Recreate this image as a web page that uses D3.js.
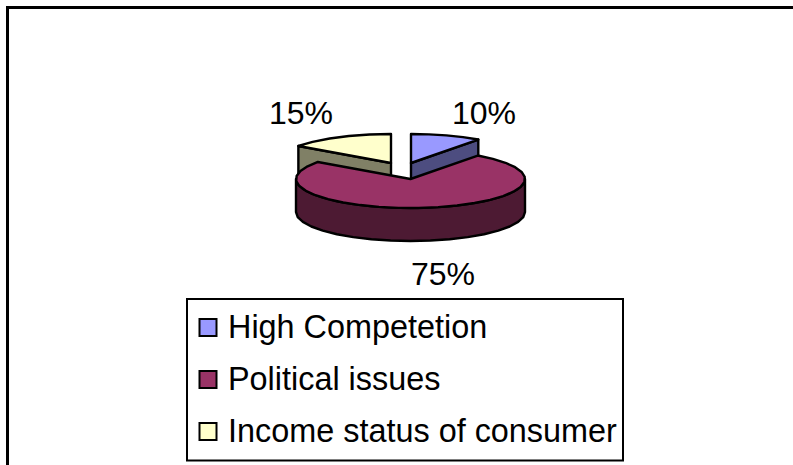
<!DOCTYPE html>
<html>
<head>
<meta charset="utf-8">
<script src="https://cdnjs.cloudflare.com/ajax/libs/d3/7.8.5/d3.min.js"></script>
<style>
html, body { margin: 0; padding: 0; background: #fff; }
svg { display: block; }
text { font-family: "Liberation Sans", Arial, sans-serif; fill: #000; }
</style>
</head>
<body>
<svg id="chart" width="793" height="465"></svg>
<script>
const categories = ["High Competetion", "Political issues", "Income status of consumer"];
const shares = [10, 75, 15];
const topColors = ["#9999FF", "#993366", "#FFFFCC"];
const sideColors = ["#4D4D80", "#4D1A33", "#808066"];

const svg = d3.select("#chart");

// Outer chart frame: only the top and left edges fall inside the page
svg.append("path")
  .attr("d", "M7.5,465V7.5H793")
  .attr("fill", "none").attr("stroke", "#000").attr("stroke-width", 3);

// Pie geometry: a tilted disc, with the two small wedges pulled away from the centre
const radiusX = 114.5, radiusY = 29, depth = 33;
const centres = [[411, 163], [410.5, 179], [391, 163]];
const labelAnchors = [[484, 124], [443, 285], [301, 124]];

const arcs = d3.pie().sort(null).value(d => d)(shares);

const rimX = d3.scaleLinear().domain([-1, 1]).range([-radiusX, radiusX]);
const rimY = d3.scaleLinear().domain([-1, 1]).range([-radiusY, radiusY]);
const rimPoint = (c, a, dy = 0) => [c[0] + rimX(Math.sin(a)), c[1] - rimY(Math.cos(a)) + dy];
const rimPoints = (c, a0, a1, dy = 0) => {
  const n = Math.max(2, Math.round((a1 - a0) / (Math.PI / 18)));
  return d3.range(n + 1).map(i => rimPoint(c, a0 + (a1 - a0) * i / n, dy));
};
const line = d3.line();

const pie = svg.append("g")
  .attr("stroke", "#000").attr("stroke-width", 2.4).attr("stroke-linejoin", "round");

// Wedges are painted back to front: the small ones first, the large one over them
function drawWedge(i) {
  const c = centres[i], a = arcs[i];
  const g = pie.append("g");
  if (i === 1) {
    // Front wall of the large wedge, visible along the lower half of the rim
    const upper = rimPoints(c, Math.PI / 2, 3 * Math.PI / 2);
    const lower = rimPoints(c, Math.PI / 2, 3 * Math.PI / 2, depth).reverse();
    g.append("path").attr("d", line(upper.concat(lower)) + "Z").attr("fill", sideColors[i]);
  } else {
    // Cut face of a small wedge, on the radial edge that looks towards the viewer
    const edge = i === 0 ? a.endAngle : a.startAngle;
    const p = rimPoint(c, edge);
    const face = [c, p, [p[0], p[1] + depth], [c[0], c[1] + depth]];
    g.append("path").attr("d", line(face) + "Z").attr("fill", sideColors[i]);
  }
  const top = [c].concat(rimPoints(c, a.startAngle, a.endAngle));
  g.append("path").attr("d", line(top) + "Z").attr("fill", topColors[i]);
}
[0, 2, 1].forEach(drawWedge);

// Percentage labels
svg.append("g").selectAll("text").data(shares).join("text")
  .attr("x", (d, i) => labelAnchors[i][0])
  .attr("y", (d, i) => labelAnchors[i][1])
  .attr("text-anchor", "middle")
  .attr("font-size", 32)
  .text(d => d + "%");

// Legend
const legend = svg.append("g");
legend.append("rect")
  .attr("x", 187).attr("y", 299).attr("width", 436).attr("height", 161.5)
  .attr("fill", "#fff").attr("stroke", "#000").attr("stroke-width", 2);

const rowY = d3.scalePoint().domain(categories).range([338, 442]);
const rows = legend.selectAll("g").data(categories).join("g");
rows.append("rect")
  .attr("x", 199.5).attr("y", d => rowY(d) - 19)
  .attr("width", 17).attr("height", 17)
  .attr("fill", (d, i) => topColors[i])
  .attr("stroke", "#000").attr("stroke-width", 2);
rows.append("text")
  .attr("x", 228).attr("y", d => rowY(d))
  .attr("font-size", 32.4)
  .text(d => d);
</script>
</body>
</html>
